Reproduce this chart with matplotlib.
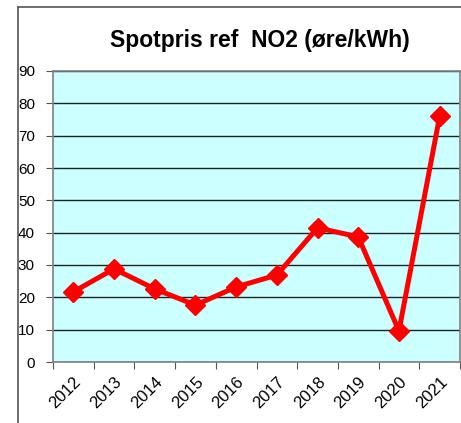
import matplotlib
matplotlib.use("Agg")
import matplotlib.pyplot as plt
from matplotlib.lines import Line2D

years = ["2012", "2013", "2014", "2015", "2016", "2017", "2018", "2019", "2020", "2021"]
prices = [21.7, 28.8, 22.6, 17.6, 23.2, 26.9, 41.5, 38.7, 9.6, 76.0]

plt.rcParams['font.family'] = ['Liberation Sans', 'DejaVu Sans']

fig = plt.figure(figsize=(4.61, 4.23), dpi=100)
ax = fig.add_axes([53 / 461, 61 / 423, 407 / 461, 291 / 423])
ax.set_facecolor("#CCFFFF")

x = [i + 0.5 for i in range(len(years))]
ax.plot(x, prices, color="#FF0000", lw=3.6, marker="D", ms=10, zorder=3)

ax.set_xlim(0, len(years))
ax.set_ylim(0, 90)
ax.set_yticks(range(0, 91, 10))
ax.set_xticks(range(len(years) + 1))
ax.set_xticklabels([])
ax.set_xticks(x, minor=True)
ax.set_xticklabels(years, minor=True, rotation=45, ha="right", rotation_mode="anchor")
ax.tick_params(axis="x", which="minor", length=0, pad=9, labelsize=12)
ax.tick_params(axis="x", which="major", length=5, color="#555555")
ax.tick_params(axis="y", length=5, color="#555555", labelsize=11, pad=8)
ax.yaxis.grid(True, color="#222222", lw=1)
ax.set_axisbelow(True)
for s in ax.spines.values():
    s.set_color("#808080")
    s.set_linewidth(1.2)

fig.text(0.564, 0.905, "Spotpris ref  NO2 (øre/kWh)", ha="center", va="center",
         fontsize=16.5, fontweight="bold")

# chart frame
fig.add_artist(Line2D([18 / 461, 18 / 461], [0, 1 - 7 / 423], color="#555555", lw=1.2))
fig.add_artist(Line2D([18 / 461, 1], [1 - 7 / 423, 1 - 7 / 423], color="#555555", lw=1.2))

fig.savefig("out.png", dpi=100)
